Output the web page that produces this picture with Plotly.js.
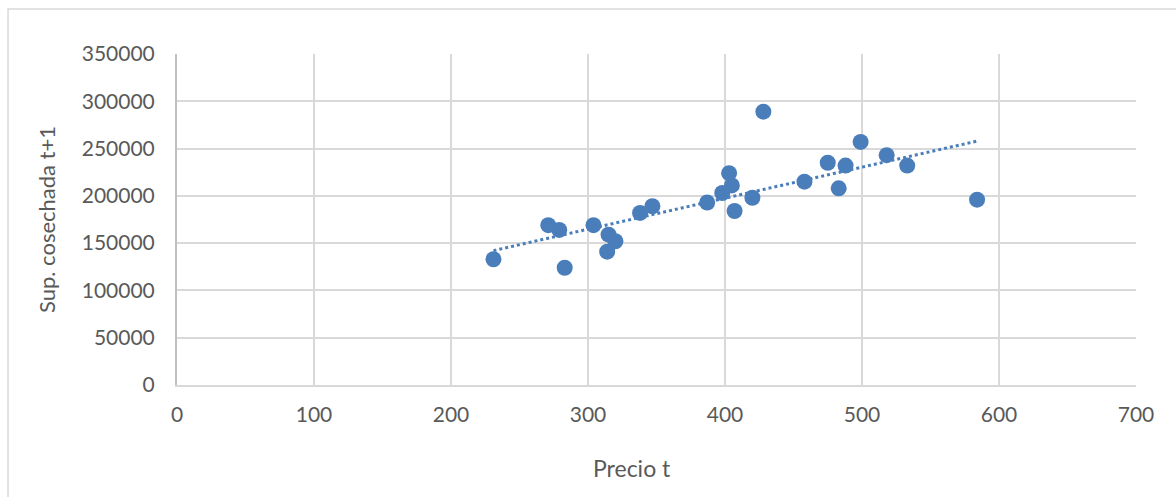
<!DOCTYPE html>
<html>
<head>
<meta charset="utf-8">
<script src="https://cdn.plot.ly/plotly-3.0.1.min.js"></script>
<style>html,body{margin:0;padding:0;background:#fff;}#chart{width:1176px;height:497px;}</style>
</head>
<body>
<div id="chart"></div>
<script>
const precio = [231, 271, 279, 283, 304, 314, 315, 320, 338, 347, 387, 398, 403, 405, 407, 420, 428, 458, 475, 483, 488, 499, 518, 533, 584];
const superficie = [133000, 169000, 164000, 124000, 169000, 141000, 159000, 152000, 182000, 189000, 193000, 203000, 224000, 211000, 184000, 198000, 289000, 215000, 235000, 208000, 232000, 257000, 243000, 232000, 196000];
const xTicks = [0, 100, 200, 300, 400, 500, 600, 700];
const yTicks = [0, 50000, 100000, 150000, 200000, 250000, 300000, 350000];
const xTitle = 'Precio t';
const yTitle = 'Sup. cosechada t+1';

// linear trendline (least squares) from the data
const n = precio.length;
const mx = precio.reduce((a,b)=>a+b,0)/n;
const my = superficie.reduce((a,b)=>a+b,0)/n;
let sxy=0, sxx=0;
for (let i=0;i<n;i++){ sxy += (precio[i]-mx)*(superficie[i]-my); sxx += (precio[i]-mx)**2; }
const slope = sxy/sxx, icpt = my - slope*mx;
const xmin = Math.min(...precio), xmax = Math.max(...precio);
const trendX = [xmin, xmax];
const trendY = trendX.map(x => icpt + slope*x);

const color = '#4a7ebb';
const data = [
  {x: trendX, y: trendY, mode: 'lines', type: 'scatter', line: {color: color, width: 3, dash: 'dot'}, hoverinfo: 'skip'},
  {x: precio, y: superficie, mode: 'markers', type: 'scatter', marker: {color: color, size: 16}}
];
const fam = 'Lato, "Open Sans", sans-serif';
const layout = {
  width: 1176, height: 497,
  margin: {l: 177, r: 40, t: 54, b: 112},
  paper_bgcolor: '#fff', plot_bgcolor: '#fff',
  showlegend: false,
  font: {family: fam, color: '#595959'},
  xaxis: {
    range: [0, 700], tickvals: xTicks, ticktext: xTicks.map(String),
    showgrid: true, gridcolor: '#d9d9d9', gridwidth: 2,
    zeroline: false, showline: true, linecolor: '#d9d9d9', linewidth: 2,
    ticks: '', ticklabelstandoff: 10,
    tickfont: {size: 21, color: '#595959', family: fam}
  },
  yaxis: {
    range: [0, 350000], tickvals: yTicks, ticktext: yTicks.map(String),
    showgrid: true, gridcolor: '#d9d9d9', gridwidth: 2,
    zeroline: false, showline: true, linecolor: '#bfbfbf', linewidth: 2,
    ticks: '', ticklabelstandoff: 16,
    tickfont: {size: 21, color: '#595959', family: fam},
    title: {text: yTitle, font: {size: 22, color: '#595959', family: fam}, standoff: 20}
  },
  annotations: [
    {text: xTitle, xref: 'paper', yref: 'paper', x: 0.4745, y: -0.2508, xanchor: 'center', yanchor: 'middle',
     showarrow: false, font: {size: 23, color: '#595959', family: fam}}
  ],
  shapes: [
    {type: 'rect', xref: 'paper', yref: 'paper', x0: -0.1762, x1: 1.06, y0: -0.4, y1: 1.136,
     line: {color: '#d9d9d9', width: 1.5}, fillcolor: 'rgba(0,0,0,0)', layer: 'below'}
  ]
};
Plotly.newPlot('chart', data, layout, {displayModeBar: false, staticPlot: true});
</script>
</body>
</html>
